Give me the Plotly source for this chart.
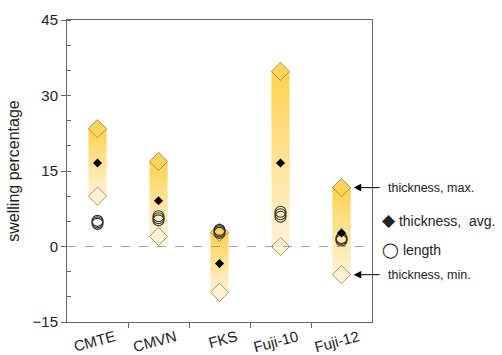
import plotly.graph_objects as go

categories = ["CMTE", "CMVN", "FKS", "Fuji-10", "Fuji-12"]
thick_max = [23.4, 16.9, 2.8, 34.8, 11.7]
thick_avg = [16.6, 9.1, -3.4, 16.6, 2.7]
thick_min = [10.0, 2.0, -9.1, 0.0, -5.6]
length_1 = [4.5, 5.2, 2.7, 5.9, 1.2]
length_2 = [4.8, 5.6, 3.0, 6.4, 1.5]
length_3 = [5.1, 6.0, 3.3, 6.9, 1.7]

GOLD = "#FFD35C"
PALE = "#FFF2D5"
EDGE = "#9A7B45"
HALF = 0.15

xs = list(range(len(categories)))
fig = go.Figure()

# gradient bars from min to max
for i in xs:
    fig.add_trace(go.Scatter(
        x=[i - HALF, i + HALF, i + HALF, i - HALF, i - HALF],
        y=[thick_min[i], thick_min[i], thick_max[i], thick_max[i], thick_min[i]],
        mode="lines", line=dict(width=0), fill="toself",
        fillgradient=dict(type="vertical", colorscale=[[0, "#FFF3DA"], [1, "#FFD250"]]),
        hoverinfo="skip", showlegend=False))

fig.add_hline(y=0, line=dict(color="#A0A0A0", width=1, dash="dash"))

fig.add_trace(go.Scatter(x=xs, y=thick_min, mode="markers",
    marker=dict(symbol="diamond", size=14, color=PALE, line=dict(color=EDGE, width=0.8)),
    showlegend=False))
fig.add_trace(go.Scatter(x=xs, y=thick_max, mode="markers",
    marker=dict(symbol="diamond", size=14, color=GOLD, line=dict(color=EDGE, width=0.8)),
    showlegend=False))
for arr in (length_1, length_2, length_3):
    fig.add_trace(go.Scatter(x=xs, y=arr, mode="markers",
        marker=dict(symbol="circle-open", size=11, color="#333333", line=dict(width=1.1)),
        showlegend=False))
fig.add_trace(go.Scatter(x=xs, y=thick_avg, mode="markers",
    marker=dict(symbol="diamond", size=7, color="black"),
    showlegend=False))

# annotations on the right
fig.add_annotation(x=4 + 0.2, y=thick_max[4], ax=4.65, ay=thick_max[4], axref="x", ayref="y",
    xref="x", yref="y", text="", showarrow=True, arrowhead=2, arrowsize=1.5, arrowwidth=1, arrowcolor="black")
fig.add_annotation(x=4 + 0.2, y=thick_min[4], ax=4.65, ay=thick_min[4], axref="x", ayref="y",
    xref="x", yref="y", text="", showarrow=True, arrowhead=2, arrowsize=1.5, arrowwidth=1, arrowcolor="black")
fig.add_annotation(x=1.0, xref="paper", xshift=14, y=thick_max[4], yref="y", text="thickness, max.",
    showarrow=False, xanchor="left", font=dict(size=12.5, color="#222"))
fig.add_annotation(x=1.0, xref="paper", xshift=14, y=thick_min[4], yref="y", text="thickness, min.",
    showarrow=False, xanchor="left", font=dict(size=12.5, color="#222"))
fig.add_annotation(x=1.0, xref="paper", xshift=8, y=5.2, yref="y",
    text="<span style='font-size:17px'>◆</span> thickness,  avg.",
    showarrow=False, xanchor="left", font=dict(size=14, color="#222"))
fig.add_annotation(x=1.0, xref="paper", xshift=8, y=-0.6, yref="y",
    text="<span style='font-size:15px'>◯</span> length",
    showarrow=False, xanchor="left", font=dict(size=14, color="#222"))

fig.update_layout(
    width=502, height=355, margin=dict(l=67, r=130, t=20, b=33),
    paper_bgcolor="white", plot_bgcolor="white",
    font=dict(family="Liberation Sans, Arial, sans-serif", color="#222", size=15),
    xaxis=dict(range=[-0.5, 4.5], tickvals=xs, ticktext=categories, ticks="",
               tickangle=-15, showgrid=False, zeroline=False, automargin=False,
               ticklabelshift=17, ticklabelstandoff=0, tickfont=dict(size=15),
               showline=True, linecolor="#666", linewidth=1, mirror=True,
               minor=dict(tickvals=[0.5, 1.5, 2.5, 3.5], ticks="outside", ticklen=5, tickcolor="#666")),
    yaxis=dict(range=[-15, 45], tickvals=[-15, 0, 15, 30, 45], ticks="outside", ticklen=5,
               tickcolor="#666", showgrid=False, zeroline=False, automargin=False,
               showline=True, linecolor="#666", linewidth=1, mirror=True,
               title=dict(text="swelling percentage", font=dict(size=16), standoff=8),
               minor=dict(dtick=5, ticks="inside", ticklen=4, tickcolor="#666")),
)

fig.write_html("out.html")
